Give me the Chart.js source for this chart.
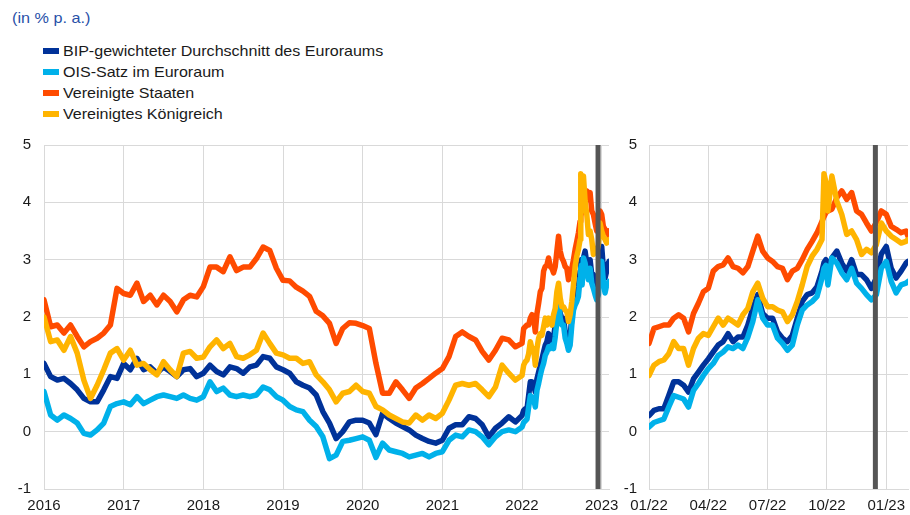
<!DOCTYPE html>
<html>
<head>
<meta charset="utf-8">
<script src="https://cdn.jsdelivr.net/npm/chart.js@4.4.1/dist/chart.umd.min.js"></script>
<style>
  body { margin: 0; width: 910px; height: 515px; background: #fff; position: relative; overflow: hidden; font-family: Arial, "Liberation Sans", sans-serif; }
  #unitLabel { position: absolute; left: 12px; top: 10px; font-size: 15px; line-height: 16px; color: #2850a8; transform: scaleX(1.08); transform-origin: left center; }
  #legendBox { position: absolute; left: 43px; top: 40px; }
  .legendRow { height: 21px; display: flex; align-items: center; font-size: 15px; color: #1a1a1a; white-space: nowrap; }
  .legendSwatch { width: 16px; height: 6px; margin-right: 4px; }
  .legendText { display: inline-block; transform: scaleX(1.07); transform-origin: left center; }
  canvas { position: absolute; top: 130px; }
</style>
</head>
<body>
<div id="unitLabel">(in % p. a.)</div>
<div id="legendBox"></div>
<canvas id="longChart" width="640" height="385" style="left: 0px;"></canvas>
<canvas id="recentChart" width="295" height="385" style="left: 615px;"></canvas>
<script>
let seriesNames = ["BIP-gewichteter Durchschnitt des Euroraums", "OIS-Satz im Euroraum", "Vereinigte Staaten", "Vereinigtes Königreich"];
let seriesColors = ["#003299", "#00b1ea", "#ff4b00", "#ffb400"];

// monthly, Jan 2016 - Dec 2021
let historyEuroArea = [
  1.19, 0.96, 0.90, 0.93, 0.84, 0.73, 0.58, 0.52, 0.52, 0.73, 0.96, 0.93,
  1.19, 1.08, 1.28, 1.08, 1.13, 1.02, 1.13, 1.05, 0.96, 1.08, 1.10, 0.96,
  1.02, 1.16, 1.05, 0.99, 1.13, 1.10, 1.02, 1.13, 1.16, 1.31, 1.28, 1.13,
  1.08, 1.02, 0.87, 0.81, 0.76, 0.64, 0.35, 0.15, -0.12, 0.00, 0.17, 0.20,
  0.20, 0.15, -0.05, 0.32, 0.23, 0.15, 0.09, 0.03, -0.06, -0.12, -0.17, -0.20,
  -0.15, 0.06, 0.12, 0.12, 0.26, 0.23, 0.12, -0.09, 0.06, 0.15, 0.26, 0.17
];
let historyOis = [
  0.70, 0.29, 0.20, 0.29, 0.23, 0.15, -0.03, -0.06, 0.03, 0.15, 0.44, 0.49,
  0.52, 0.47, 0.61, 0.49, 0.55, 0.61, 0.64, 0.61, 0.58, 0.64, 0.58, 0.55,
  0.61, 0.87, 0.70, 0.76, 0.64, 0.61, 0.64, 0.61, 0.64, 0.78, 0.73, 0.61,
  0.55, 0.44, 0.38, 0.35, 0.20, 0.09, -0.09, -0.47, -0.41, -0.17, -0.15, -0.12,
  -0.09, -0.15, -0.45, -0.20, -0.32, -0.35, -0.38, -0.44, -0.41, -0.38, -0.44, -0.38,
  -0.35, -0.15, -0.06, -0.09, 0.03, 0.00, -0.09, -0.23, -0.09, 0.00, 0.03, 0.00
];
let historyUs = [
  2.30, 1.83, 1.86, 1.72, 1.86, 1.66, 1.48, 1.57, 1.63, 1.72, 1.86, 2.50,
  2.41, 2.38, 2.59, 2.27, 2.38, 2.21, 2.38, 2.27, 2.09, 2.30, 2.38, 2.35,
  2.53, 2.87, 2.87, 2.79, 3.05, 2.81, 2.87, 2.87, 3.02, 3.22, 3.16, 2.85,
  2.64, 2.63, 2.52, 2.45, 2.36, 2.10, 2.02, 1.89, 1.54, 1.80, 1.90, 1.89,
  1.85, 1.80, 1.19, 0.67, 0.67, 0.87, 0.73, 0.58, 0.76, 0.84, 0.93, 1.02,
  1.10, 1.31, 1.66, 1.74, 1.66, 1.60, 1.40, 1.25, 1.42, 1.63, 1.60, 1.48
];
let historyUk = [
  2.00, 1.57, 1.60, 1.42, 1.66, 1.37, 0.90, 0.58, 0.81, 1.08, 1.37, 1.45,
  1.25, 1.42, 1.16, 1.19, 1.08, 0.99, 1.22, 1.08, 0.96, 1.37, 1.40, 1.28,
  1.30, 1.48, 1.60, 1.45, 1.54, 1.31, 1.28, 1.34, 1.42, 1.72, 1.54, 1.37,
  1.34, 1.28, 1.28, 1.19, 1.22, 0.99, 0.87, 0.73, 0.52, 0.67, 0.70, 0.81,
  0.70, 0.67, 0.44, 0.38, 0.29, 0.23, 0.17, 0.15, 0.29, 0.20, 0.29, 0.23,
  0.32, 0.55, 0.81, 0.84, 0.81, 0.84, 0.73, 0.61, 0.78, 1.16, 1.02, 0.90
];

// months since Jan 2022
let recentMonths = [
  0, 0.25, 0.5, 0.75, 1, 1.25, 1.5, 1.75, 2, 2.25, 2.5, 2.75, 3, 3.25, 3.5, 3.75, 4, 4.25,
  4.5, 4.75, 5, 5.25, 5.5, 5.75, 6, 6.25, 6.5, 6.75, 7, 7.25, 7.5, 7.75, 8, 8.25, 8.5, 8.75,
  8.85, 8.95, 9.05,
  9.25, 9.5, 9.75, 10, 10.25, 10.5, 10.75, 11, 11.25, 11.5, 11.75, 12, 12.25, 12.5, 12.75, 13,
  13.1
];
let recentEuroArea = [
  0.28, 0.37, 0.40, 0.40, 0.63, 0.87, 0.87, 0.81, 0.69, 0.92, 1.04, 1.16, 1.27, 1.39, 1.51, 1.57, 1.71, 1.57,
  1.65, 1.65, 1.86, 2.15, 2.39, 2.06, 1.98, 1.98, 1.74, 1.63, 1.57, 1.68, 1.98, 2.27, 2.39, 2.42, 2.53, 2.80,
  2.95, 3.00, 2.72,
  3.03, 3.15, 2.94, 2.80, 3.00, 2.74, 2.74, 2.65, 2.50, 2.68, 3.10, 3.23, 2.85, 2.68, 2.80, 2.94,
  2.97
];
let recentOis = [
  0.08, 0.16, 0.19, 0.22, 0.43, 0.63, 0.60, 0.57, 0.43, 0.72, 0.84, 0.98, 1.10, 1.19, 1.33, 1.39, 1.48, 1.45,
  1.51, 1.45, 1.65, 1.92, 2.30, 1.98, 1.86, 1.86, 1.63, 1.54, 1.42, 1.51, 1.86, 2.12, 2.21, 2.27, 2.36, 2.68,
  2.85, 2.90, 2.56,
  3.03, 2.94, 2.77, 2.65, 2.85, 2.59, 2.50, 2.39, 2.30, 2.39, 2.85, 2.97, 2.62, 2.42, 2.56, 2.59,
  2.62
];
let recentUs = [
  1.54, 1.80, 1.83, 1.86, 1.86, 1.98, 2.04, 1.98, 1.74, 2.06, 2.24, 2.44, 2.50, 2.80, 2.88, 2.91, 3.03, 2.88,
  2.85, 2.77, 2.88, 3.15, 3.41, 3.15, 3.03, 2.97, 2.88, 2.85, 2.65, 2.80, 2.85, 3.00, 3.18, 3.32, 3.47, 3.67,
  3.75, 3.82, 3.85,
  3.88, 4.08, 4.20, 4.05, 4.17, 3.85, 3.79, 3.64, 3.50, 3.65, 3.85, 3.79, 3.58, 3.53, 3.47, 3.50,
  3.41
];
let recentUk = [
  0.98, 1.16, 1.22, 1.25, 1.36, 1.57, 1.45, 1.45, 1.16, 1.45, 1.63, 1.71, 1.68, 1.83, 1.98, 1.86, 1.98, 1.92,
  1.86, 2.04, 2.15, 2.44, 2.59, 2.33, 2.18, 2.18, 2.12, 2.09, 1.92, 2.04, 2.27, 2.56, 2.88, 3.06, 3.18, 3.35,
  4.50, 4.35, 3.85,
  4.46, 4.02, 3.79, 3.44, 3.50, 3.35, 3.09, 3.18, 3.12, 3.26, 3.64, 3.50, 3.41, 3.35, 3.29, 3.32,
  3.35
];

// ECB meeting 15 Dec 2022, months since Jan 2022
let eventMonth = 11.45;

let longTickMonths = [0, 12, 24, 36, 48, 60, 72, 84];
let longTickLabels = ["2016", "2017", "2018", "2019", "2020", "2021", "2022", "2023"];
let recentTickMonths = [0, 3, 6, 9, 12];
let recentTickLabels = ["01/22", "04/22", "07/22", "10/22", "01/23"];
let rateTicks = [-1, 0, 1, 2, 3, 4, 5];
let longEnd = 85.1;
let recentEnd = 13.1;

let historySeries = [historyEuroArea, historyOis, historyUs, historyUk];
let recentSeries = [recentEuroArea, recentOis, recentUs, recentUk];

Chart.defaults.font.family = "Arial, 'Liberation Sans', sans-serif";

seriesNames.forEach((name, index) => {
  let legendRow = document.createElement("div");
  legendRow.className = "legendRow";
  let legendSwatch = document.createElement("span");
  legendSwatch.className = "legendSwatch";
  legendSwatch.style.background = seriesColors[index];
  let legendText = document.createElement("span");
  legendText.className = "legendText";
  legendText.innerText = name;
  legendRow.appendChild(legendSwatch);
  legendRow.appendChild(legendText);
  document.getElementById("legendBox").appendChild(legendRow);
});

function recentPoints(index, shift) {
  return recentSeries[index].map((value, i) => ({ x: recentMonths[i] + shift, y: value }));
};

function buildChart(canvasId, pointSets, eventX, xEnd, tickMonths, tickLabels, axisWidth, labelPadding, rightPadding) {
  let datasets = pointSets.map((points, index) => ({
    label: seriesNames[index],
    data: points,
    borderColor: seriesColors[index],
    borderWidth: 5.5,
    borderJoinStyle: "round",
    borderCapStyle: "round",
    order: 4 - index
  }));
  datasets.push({
    label: "event",
    data: [{ x: eventX, y: rateTicks[0] }, { x: eventX, y: rateTicks[rateTicks.length - 1] }],
    borderColor: "#555555",
    borderWidth: 5,
    borderCapStyle: "butt",
    order: 0
  });
  return new Chart(document.getElementById(canvasId), {
    type: "line",
    data: { datasets },
    options: {
      responsive: false,
      animation: false,
      devicePixelRatio: 1,
      layout: { padding: { top: 15, right: rightPadding, bottom: 0, left: 0 } },
      plugins: { legend: { display: false }, tooltip: { enabled: false } },
      elements: {
        point: { radius: 0 },
        line: { tension: 0, fill: false }
      },
      scales: {
        x: {
          type: "linear",
          min: 0,
          max: xEnd,
          afterBuildTicks: (scale) => { scale.ticks = tickMonths.map((value) => ({ value })); },
          afterFit: (scale) => {
            scale.height = 26;
            scale.paddingLeft = 0;
            scale.paddingRight = 0;
          },
          ticks: { autoSkip: false, maxRotation: 0, padding: 8, color: "#1a1a1a", font: { size: 15 }, callback: (value, index) => tickLabels[index] },
          grid: { color: "#d9d9d9", drawTicks: false },
          border: { color: "#d9d9d9" }
        },
        y: {
          min: rateTicks[0],
          max: rateTicks[rateTicks.length - 1],
          afterBuildTicks: (scale) => { scale.ticks = rateTicks.map((value) => ({ value })); },
          afterFit: (scale) => {
            scale.width = axisWidth;
            scale.paddingTop = 0;
            scale.paddingBottom = 0;
          },
          ticks: { padding: labelPadding, color: "#1a1a1a", font: { size: 15 } },
          grid: { color: "#d9d9d9", drawTicks: false },
          border: { color: "#d9d9d9" }
        }
      }
    }
  });
};

let longPointSets = historySeries.map((values, index) => [
  ...values.map((value, month) => ({ x: month, y: value })),
  ...recentPoints(index, historyEuroArea.length)
]);
let recentPointSets = recentSeries.map((values, index) => recentPoints(index, 0));

buildChart("longChart", longPointSets, historyEuroArea.length + eventMonth, longEnd, longTickMonths, longTickLabels, 44, 13, 31);
buildChart("recentChart", recentPointSets, eventMonth, recentEnd, recentTickMonths, recentTickLabels, 34, 12, 2);
</script>
</body>
</html>
